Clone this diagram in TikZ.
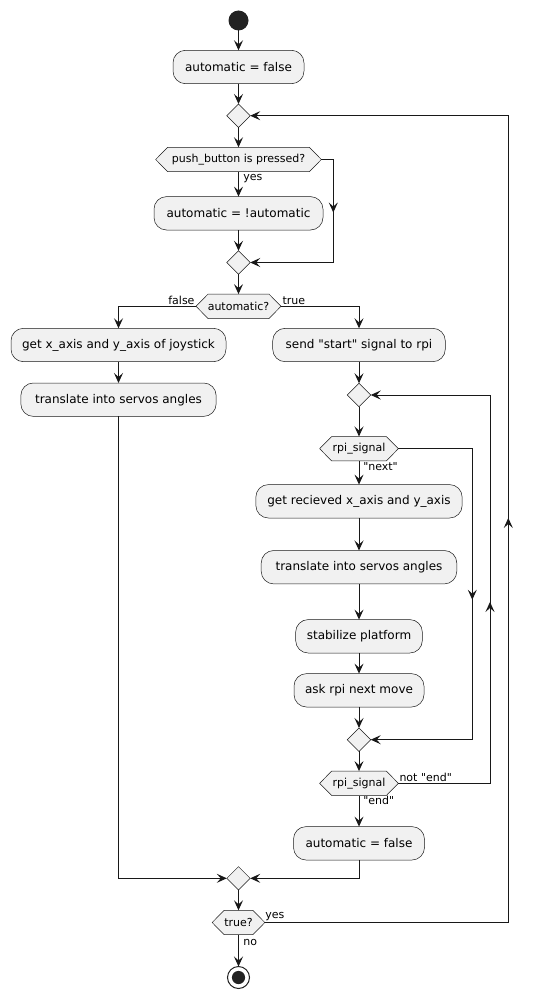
\documentclass[tikz,border=0pt]{standalone}
\usepackage{fontspec}
\setmainfont{DejaVu Sans}[Ligatures=TeXOff]
\usetikzlibrary{arrows.meta,shapes.geometric,decorations.markings,calc}
\pgfdeclarelayer{background}
\pgfsetlayers{background,main}
\definecolor{ink}{HTML}{181818}
\definecolor{boxfill}{HTML}{F1F1F1}
\definecolor{dotcol}{HTML}{222222}
\newcommand\hexdraw[1]{%
  \begin{pgfonlayer}{background}
    \filldraw[draw=ink,line width=0.5pt,fill=boxfill]
      (#1.west) -- ([xshift=12pt]#1.north west) -- ([xshift=-12pt]#1.north east)
      -- (#1.east) -- ([xshift=-12pt]#1.south east) -- ([xshift=12pt]#1.south west) -- cycle;
  \end{pgfonlayer}}
\begin{document}
\begin{tikzpicture}[x=1pt,y=-1pt,
  >={Stealth[length=10pt,width=9pt,inset=4pt]},
  act/.style={rectangle,rounded corners=12.5pt,draw=ink,line width=0.5pt,fill=boxfill,
    minimum height=33.4pt,inner sep=0pt,outer sep=0pt,font=\fontsize{12}{14}\selectfont},
  merge/.style={diamond,aspect=1,draw=ink,line width=0.5pt,fill=boxfill,
    minimum width=23.4pt,minimum height=23.4pt,inner sep=0pt,outer sep=0pt},
  hexn/.style={rectangle,minimum height=24.4pt,inner sep=0pt,outer sep=0pt,
    font=\fontsize{11}{13}\selectfont},
  lbl/.style={inner sep=0pt,outer sep=0pt,font=\fontsize{11}{13}\selectfont},
  conn/.style={color=ink,line width=1pt,->},
  midarrow/.style={postaction={decorate},
    decoration={markings,mark=at position #1 with {\arrow{>}}}},
  startdot/.style={circle,fill=dotcol,minimum size=20pt,inner sep=0pt,outer sep=0pt},
  enddot/.style={circle,draw=dotcol,line width=1pt,fill=white,minimum size=22pt,inner sep=0pt,outer sep=0pt}
]
\path[use as bounding box] (0,0) rectangle (533,998);

% nodes
\node[startdot] (start) at (238.5,20.5) {};
\node[act,minimum width=131pt] (b1) at (238.5,67) {automatic = false};
\node[merge] (d1) at (238.5,115.7) {};
\node[hexn,minimum width=165.7pt] (h1) at (238.5,159.5) {push\_button is pressed?};
\hexdraw{h1}
\node[act,minimum width=169pt] (b2) at (238.5,213.3) {automatic = !automatic};
\node[merge] (d2) at (238.5,262.5) {};
\node[hexn,minimum width=85pt] (h2) at (238.5,306.3) {automatic?};
\hexdraw{h2}
\node[act,minimum width=215pt] (b3) at (118.5,345) {get x\_axis and y\_axis of joystick};
\node[act,minimum width=195.3pt] (b5) at (118.5,399.7) {translate into servos angles};
\node[act,minimum width=172.6pt] (b4) at (359,345) {send "start" signal to rpi};
\node[merge] (d3) at (359,395) {};
\node[hexn,minimum width=78.7pt] (h3) at (359,448.7) {rpi\_signal};
\hexdraw{h3}
\node[act,minimum width=206.3pt] (b6) at (359,501.3) {get recieved x\_axis and y\_axis};
\node[act,minimum width=195.6pt] (b7) at (359,567.2) {translate into servos angles};
\node[act,minimum width=126.7pt] (b8) at (359,636.3) {stabilize platform};
\node[act,minimum width=130pt] (b9) at (359,690.3) {ask rpi next move};
\node[merge] (d4) at (359,739.7) {};
\node[hexn,minimum width=78.7pt] (h4) at (359,783.3) {rpi\_signal};
\hexdraw{h4}
\node[act,minimum width=131pt] (b10) at (359,843.3) {automatic = false};
\node[merge] (d5) at (238.5,878.3) {};
\node[hexn,minimum width=52.7pt] (h5) at (238.5,922.5) {true?};
\hexdraw{h5}
\node[enddot] (end) at (238.5,977.5) {};
\fill[dotcol] (end.center) circle (6.6pt);

% corner coordinates
\coordinate (c1) at (333.3,159.5);
\coordinate (c2) at (333.3,262.5);
\coordinate (o1) at (508.3,922.5);
\coordinate (o2) at (508.3,115.7);
\coordinate (r1) at (472.3,448.7);
\coordinate (r2) at (472.3,739.7);
\coordinate (s1) at (490,783.3);
\coordinate (s2) at (490,395);

% connectors
\draw[conn] (start) -- (b1);
\draw[conn] (b1) -- (d1);
\draw[conn] (d1) -- (h1);
\draw[conn] (h1) -- (b2);
\draw[conn,midarrow=65pt] (h1.east) -- (c1) -- (c2) -- (d2.east);
\draw[conn] (b2) -- (d2);
\draw[conn] (d2) -- (h2);
\draw[conn] (h2.west) -| (b3.north);
\draw[conn] (h2.east) -| (b4.north);
\draw[conn] (b3) -- (b5);
\draw[conn] (b5.south) |- (d5.west);
\draw[conn] (b4) -- (d3);
\draw[conn] (d3) -- (h3);
\draw[conn] (h3) -- (b6);
\draw[conn,midarrow=225pt] (h3.east) -- (r1) -- (r2) -- (d4.east);
\draw[conn] (b6) -- (b7);
\draw[conn] (b7) -- (b8);
\draw[conn] (b8) -- (b9);
\draw[conn] (b9) -- (d4);
\draw[conn] (d4) -- (h4);
\draw[conn,midarrow=273pt] (h4.east) -- (s1) -- (s2) -- (d3.east);
\draw[conn] (h4) -- (b10);
\draw[conn] (b10.south) |- (d5.east);
\draw[conn] (d5) -- (h5);
\draw[conn] (h5) -- (end);
\draw[conn,midarrow=648pt] (h5.east) -- (o1) -- (o2) -- (d1.east);

% labels
\node[lbl,anchor=west] (lyes1) at (243.3,178.5) {yes};
\node[lbl,anchor=east] (lfalse) at (194.5,300.5) {false};
\node[lbl,anchor=west] (ltrue) at (282.5,300.5) {true};
\node[lbl,anchor=west] (lnext) at (363.3,466.8) {"next"};
\node[lbl,anchor=west] (lnotend) at (399.5,777.5) {not "end"};
\node[lbl,anchor=west] (lend) at (363.3,800.8) {"end"};
\node[lbl,anchor=west] (lyes2) at (265.3,916.5) {yes};
\node[lbl,anchor=west] (lno) at (243.3,942.7) {no};
\end{tikzpicture}
\end{document}
